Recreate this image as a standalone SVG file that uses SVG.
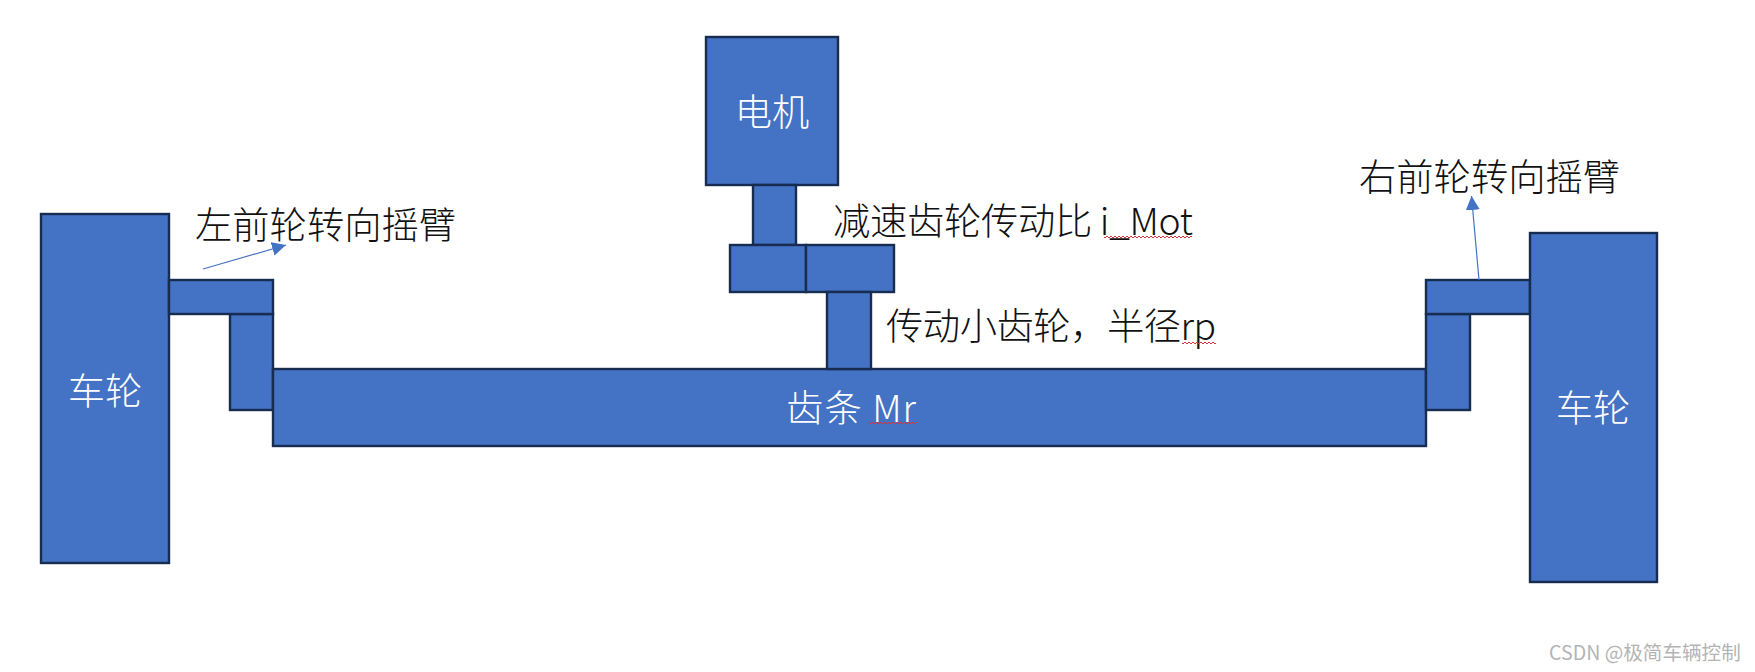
<svg xmlns="http://www.w3.org/2000/svg" width="1755" height="672" viewBox="0 0 1755 672">
<style>
.b{fill:#4472c4;stroke:#172c51;stroke-width:2.4}
text{font-family:"Noto Sans CJK SC","Noto Sans",sans-serif;font-size:37.300px;font-weight:300}
.w{fill:#fff}.k{fill:#111}
.c{fill:none;stroke:#4472c4;stroke-width:1.2}
.s{fill:none;stroke:#d6343a;stroke-width:1}
</style>
<defs><marker id="a" markerUnits="userSpaceOnUse" markerWidth="15" markerHeight="15" refX="14" refY="7" orient="auto"><path d="M0 0L14 7L0 14Z" fill="#4472c4"/></marker></defs>
<rect width="1755" height="672" fill="#fff"/>
<g id="left-wheel"><rect class="b" x="41" y="214" width="128" height="349"/><text class="w" x="105" y="405" text-anchor="middle">车轮</text></g>
<g id="left-vertical"><rect class="b" x="230" y="314" width="43" height="96"/></g>
<g id="left-arm"><rect class="b" x="169" y="280" width="104" height="34"/></g>
<g id="rack"><rect class="b" x="273" y="369" width="1153" height="77"/><text class="w" x="786" y="422" textLength="130">齿条 Mr</text></g>
<g id="right-vertical"><rect class="b" x="1426" y="314" width="44" height="96"/></g>
<g id="right-arm"><rect class="b" x="1426" y="280" width="104" height="34"/></g>
<g id="right-wheel"><rect class="b" x="1530" y="233" width="127" height="349"/><text class="w" x="1593" y="422" text-anchor="middle">车轮</text></g>
<g id="motor"><rect class="b" x="706" y="37" width="132" height="148"/><text class="w" x="772" y="126" text-anchor="middle">电机</text></g>
<g id="shaft"><rect class="b" x="753" y="185" width="43" height="60"/></g>
<g id="gear-left"><rect class="b" x="730" y="245" width="76" height="47"/></g>
<g id="gear-right"><rect class="b" x="806" y="245" width="88" height="47"/></g>
<g id="pinion"><rect class="b" x="827" y="292" width="44" height="77"/></g>
<g id="label-left"><text class="k" x="195" y="239">左前轮转向摇臂</text></g>
<g id="label-right"><text class="k" x="1359" y="191">右前轮转向摇臂</text></g>
<g id="label-ratio"><text class="k" x="833" y="235" textLength="360">减速齿轮传动比 i_Mot</text></g>
<g id="label-pinion"><text class="k" x="886" y="340" textLength="330">传动小齿轮，半径rp</text></g>
<g id="watermark"><text x="1549" y="660" style="font-size:19.600px;font-weight:400" fill="#b4b4b4">CSDN @极简车辆控制</text></g>
<g id="connectors">
<path class="c" d="M203 269L286 245" marker-end="url(#a)"/>
<path class="c" d="M1479 280L1471.500 196" marker-end="url(#a)"/>
</g>
<g id="squiggles">
<path class="s" d="M1104 237q1 2 2 0t2 0t2 0t2 0t2 0t2 0t2 0t2 0t2 0t2 0t2 0t2 0t2 0t2 0t2 0t2 0t2 0t2 0t2 0t2 0t2 0t2 0t2 0t2 0t2 0t2 0t2 0t2 0t2 0t2 0t2 0t2 0t2 0t2 0t2 0t2 0t2 0t2 0t2 0t2 0t2 0t2 0t2 0t2 0"/>
<path class="s" d="M1182 343q1 2 2 0t2 0t2 0t2 0t2 0t2 0t2 0t2 0t2 0t2 0t2 0t2 0t2 0t2 0t2 0t2 0t2 0"/>
<path class="s" d="M869 423q1 2 2 0t2 0t2 0t2 0t2 0t2 0t2 0t2 0t2 0t2 0t2 0t2 0t2 0t2 0t2 0t2 0t2 0t2 0t2 0t2 0t2 0t2 0t2 0t2 0"/>
</g>
</svg>
